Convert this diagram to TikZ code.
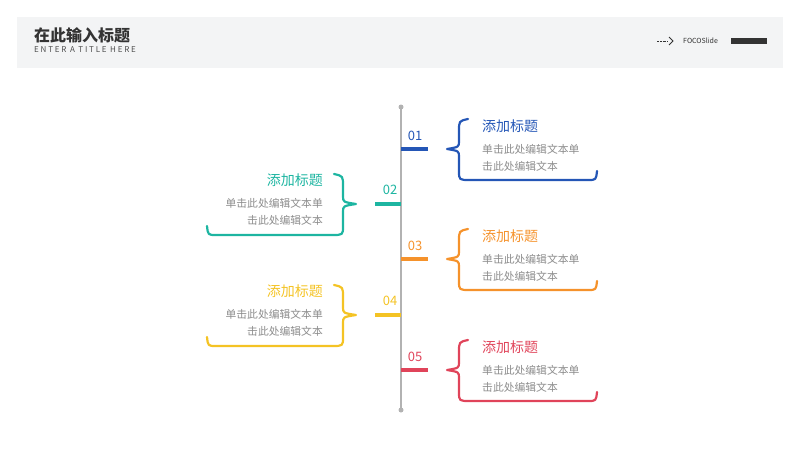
\documentclass[tikz,border=0pt]{standalone}
\usepackage{fontspec}
\setmainfont{Noto Sans CJK SC}
\usetikzlibrary{positioning}
\definecolor{cblue}{HTML}{2456B6}
\definecolor{cteal}{HTML}{1DB5A1}
\definecolor{corange}{HTML}{F5922B}
\definecolor{cyellow}{HTML}{F4C324}
\definecolor{cred}{HTML}{E0445A}
\definecolor{bodygray}{HTML}{8C8C8C}
\definecolor{headbg}{HTML}{F3F4F5}

\tikzset{
    brace/.style={line width=2.2pt, line cap=round, line join=round},
    tick/.style={line width=4pt},
    numtxt/.style={font=\fontsize{13}{13}\selectfont, inner sep=0pt},
    headtxt/.style={font=\fontsize{14}{14}\selectfont, inner sep=0pt},
    bodytxt/.style={font=\fontsize{10.8}{17}\selectfont, text=bodygray, inner sep=0pt}
}

% right-hand item: y, number, colour
\newcommand{\rightitem}[4]{
    \draw[tick, #3] (401,#1) -- (428,#1);
    \node[numtxt, text=#3] (num#4) at (415,{#1-13}) {#2};
    \draw[brace, #3] (468,{#1-30}) .. controls (459,{#1-28}) .. (459,{#1-18})
        -- (459,{#1-8}) .. controls (459,{#1-2}) .. (447,#1)
        .. controls (459,{#1+2}) .. (459,{#1+8}) -- (459,{#1+22})
        .. controls (459,{#1+31}) .. (470,{#1+31}) -- (588,{#1+31})
        .. controls (596,{#1+31}) .. (597,{#1+22});
    \node[headtxt, text=#3, anchor=west] (head#4) at (482,{#1-23}) {添加标题};
    \node[bodytxt, anchor=north west, align=left] (body#4) at (482,{#1-5})
        {单击此处编辑文本单\\击此处编辑文本};
}
% left-hand item: y, number, colour
\newcommand{\leftitem}[4]{
    \draw[tick, #3] (375,#1) -- (401,#1);
    \node[numtxt, text=#3] (num#4) at (390,{#1-14}) {#2};
    \draw[brace, #3] (334,{#1-30}) .. controls (343,{#1-28}) .. (343,{#1-18})
        -- (343,{#1-8}) .. controls (343,{#1-2}) .. (356,#1)
        .. controls (343,{#1+2}) .. (343,{#1+8}) -- (343,{#1+22})
        .. controls (343,{#1+31}) .. (332,{#1+31}) -- (216,{#1+31})
        .. controls (208,{#1+31}) .. (207,{#1+22});
    \node[headtxt, text=#3, anchor=east] (head#4) at (323,{#1-24}) {添加标题};
    \node[bodytxt, anchor=north east, align=right] (body#4) at (323,{#1-6})
        {单击此处编辑文本单\\击此处编辑文本};
}

\begin{document}
\begin{tikzpicture}[x=1pt, y=-1pt]

    \useasboundingbox (0,0) rectangle (800,450);

    % header
    \fill[headbg] (17,17) rectangle (783,68);
    \node[font=\bfseries\fontsize{16}{16}\selectfont, text=black!80, anchor=west, inner sep=0pt] (title) at (34,35) {在此输入标题};
    \node[font=\fontsize{8}{8}\selectfont, text=black!70, anchor=west, inner sep=0pt] (subtitle) at (34,50) {E N T E R\ \ A\ \ T I T L E\ \ H E R E};
    \node[font=\fontsize{7}{7}\selectfont, text=black!80, anchor=west, inner sep=0pt] (brand) at (683,41) {FOCOSlide};
    \coordinate (arrs) at (657,41);
    \coordinate (arre) at (673,41);
    \draw[densely dotted, black!80] (arrs) -- (668,41);
    \draw[black!80, line width=0.8pt] (669,37) -- (arre) -- (669,45);
    \fill[black!80] (731,38) rectangle (767,44);

    % timeline
    \coordinate (ttop) at (401,107);
    \coordinate (tbot) at (401,410);
    \draw[gray!60, line width=1.2pt] (ttop) -- (tbot);
    \fill[gray!60] (ttop) circle (2.5) (tbot) circle (2.5);

    \rightitem{149}{01}{cblue}{a}
    \leftitem{204}{02}{cteal}{b}
    \rightitem{259}{03}{corange}{c}
    \leftitem{315}{04}{cyellow}{d}
    \rightitem{370}{05}{cred}{e}

\end{tikzpicture}
\end{document}
